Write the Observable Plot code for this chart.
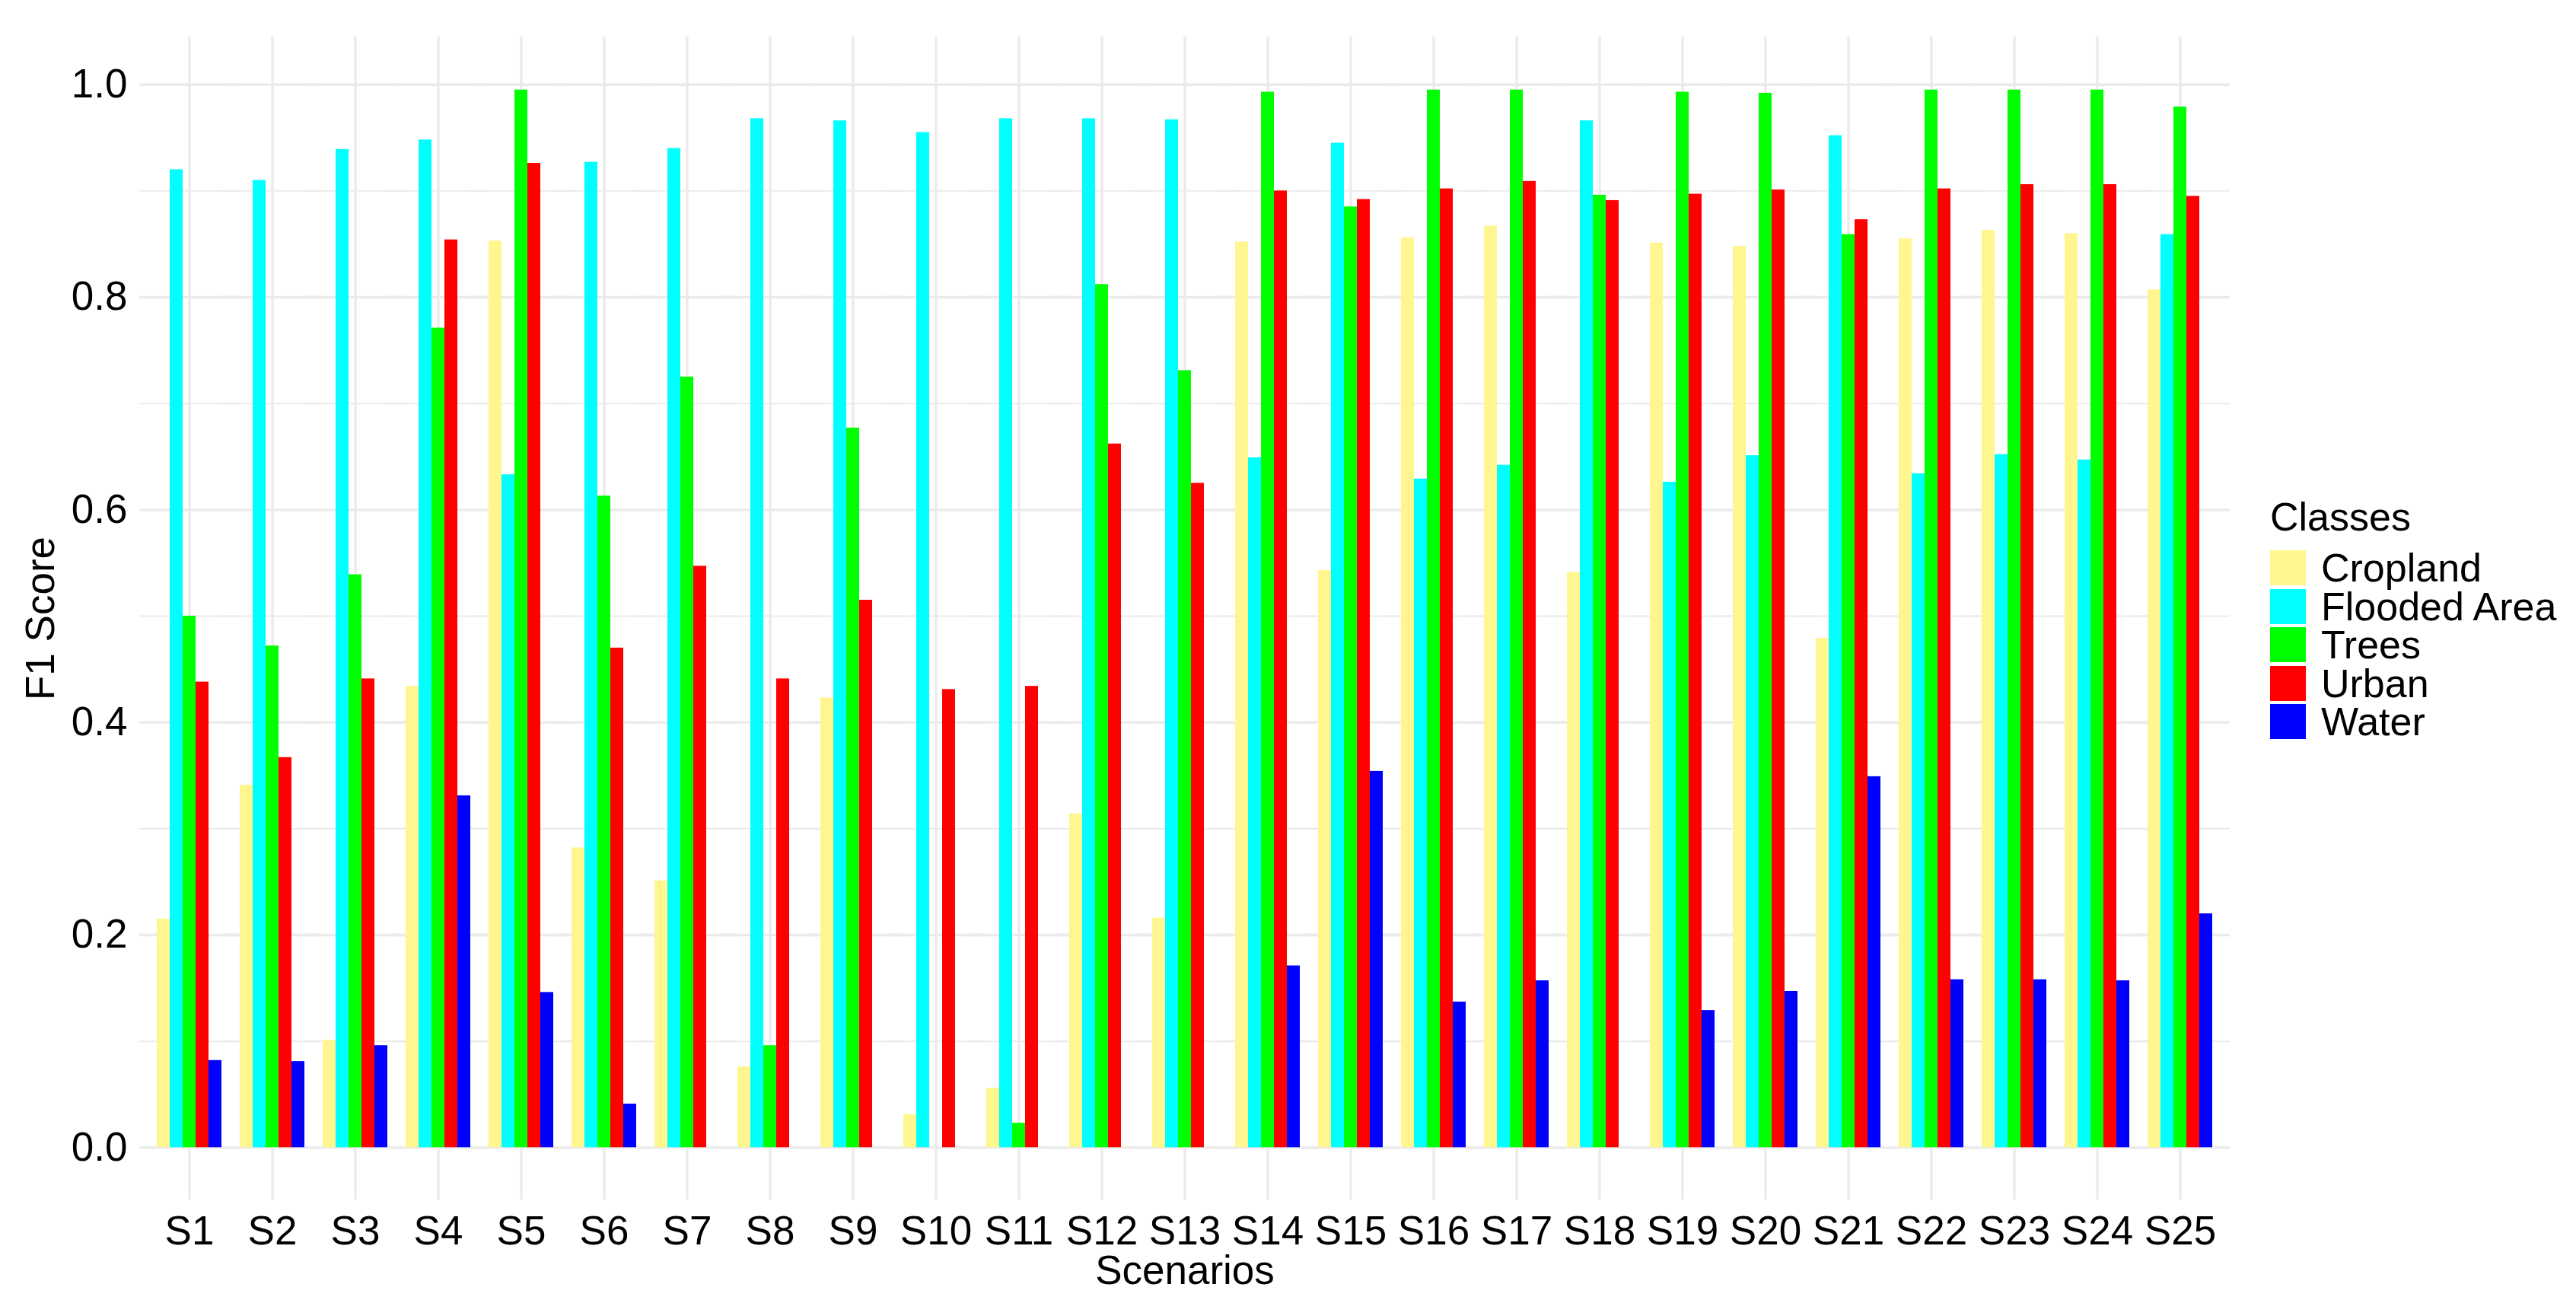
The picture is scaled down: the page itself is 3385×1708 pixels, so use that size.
<!DOCTYPE html>
<html>
<head>
<meta charset="utf-8">
<script src="https://cdn.jsdelivr.net/npm/d3@7"></script>
<script src="https://cdn.jsdelivr.net/npm/@observablehq/plot@0.6"></script>
<style>
  html, body { margin: 0; padding: 0; background: #fff; }
  #wrap { position: relative; width: 3385px; height: 1708px; font-family: "Liberation Sans", Arial, sans-serif; }
  #legend { position: absolute; left: 2983px; top: 653px; color: #000; }
  #legend .title { font-size: 52px; line-height: 52px; margin-bottom: 16px; }
  #legend .row { display: flex; align-items: center; height: 50.5px; }
  #legend .key { width: 47px; height: 46px; margin-right: 20px; }
  #legend .lab { font-size: 52px; line-height: 46px; white-space: nowrap; }
</style>
</head>
<body>
<div id="wrap"><div id="chart"></div><div id="legend"></div></div>
<script>
const scenarios = ["S1","S2","S3","S4","S5","S6","S7","S8","S9","S10","S11","S12","S13","S14","S15","S16","S17","S18","S19","S20","S21","S22","S23","S24","S25"];
const classes = ["Cropland","Flooded Area","Trees","Urban","Water"];
const classColors = ["#FFF68F","#00FFFF","#00FF00","#FF0000","#0000FF"];

const cropland = [0.215,0.341,0.101,0.434,0.853,0.282,0.251,0.076,0.423,0.031,0.056,0.314,0.216,0.852,0.543,0.856,0.867,0.541,0.851,0.848,0.479,0.855,0.863,0.860,0.807];
const floodedArea = [0.920,0.910,0.939,0.948,0.633,0.927,0.940,0.968,0.966,0.955,0.968,0.968,0.967,0.649,0.945,0.629,0.642,0.966,0.626,0.651,0.952,0.634,0.652,0.647,0.859];
const trees = [0.500,0.472,0.539,0.771,0.995,0.613,0.725,0.096,0.677,0.000,0.023,0.812,0.731,0.993,0.885,0.995,0.995,0.896,0.993,0.992,0.859,0.995,0.995,0.995,0.979];
const urban = [0.438,0.367,0.441,0.854,0.926,0.470,0.547,0.441,0.515,0.431,0.434,0.662,0.625,0.900,0.892,0.902,0.909,0.891,0.897,0.901,0.873,0.902,0.906,0.906,0.895];
const water = [0.082,0.081,0.096,0.331,0.146,0.041,0.000,0.000,0.000,0.000,0.000,0.000,0.000,0.171,0.354,0.137,0.157,0.000,0.129,0.147,0.349,0.158,0.158,0.157,0.220];

const yMajor = [0, 0.2, 0.4, 0.6, 0.8, 1.0];
const yMinor = [0.1, 0.3, 0.5, 0.7, 0.9];

const seriesByClass = [cropland, floodedArea, trees, urban, water];
const rows = [];
scenarios.forEach((s, i) => {
  classes.forEach((c, j) => rows.push({scenario: s, cls: c, value: seriesByClass[j][i]}));
});

const gridColor = "#EBEBEB";

const chart = Plot.plot({
  width: 2960,
  height: 1708,
  marginLeft: 179,
  marginRight: 26,
  marginTop: 48,
  marginBottom: 132,
  style: {fontFamily: "'Liberation Sans', Arial, sans-serif", fontSize: "53px", color: "#000", background: "#fff", overflow: "visible"},
  fx: {domain: scenarios, paddingInner: 0.18, paddingOuter: 0.19, label: "Scenarios", labelAnchor: "center", labelOffset: 110, tickSize: 0, tickPadding: 21, axis: "bottom", labelArrow: false},
  x: {domain: classes, axis: null, padding: 0},
  y: {domain: [-0.0492, 1.0449], ticks: yMajor, tickFormat: d3.format(".1f"), tickSize: 0, tickPadding: 37, label: "F1 Score", labelAnchor: "center", labelOffset: 171, labelArrow: false},
  color: {domain: classes, range: classColors},
  marks: [
    Plot.ruleY(yMinor, {stroke: gridColor, strokeWidth: 2, insetLeft: -21, insetRight: -21}),
    Plot.ruleY(yMajor, {stroke: gridColor, strokeWidth: 3.4, insetLeft: -21, insetRight: -21}),
    Plot.ruleX(["Trees"], {stroke: gridColor, strokeWidth: 3.4}),
    Plot.barY(rows, {fx: "scenario", x: "cls", y: "value", fill: "cls"})
  ]
});
document.getElementById("chart").appendChild(chart);

const legend = document.getElementById("legend");
const t = document.createElement("div");
t.className = "title";
t.textContent = "Classes";
legend.appendChild(t);
classes.forEach((c, i) => {
  const r = document.createElement("div");
  r.className = "row";
  const k = document.createElement("div");
  k.className = "key";
  k.style.background = classColors[i];
  const l = document.createElement("div");
  l.className = "lab";
  l.textContent = c;
  r.appendChild(k); r.appendChild(l);
  legend.appendChild(r);
});
</script>
</body>
</html>
